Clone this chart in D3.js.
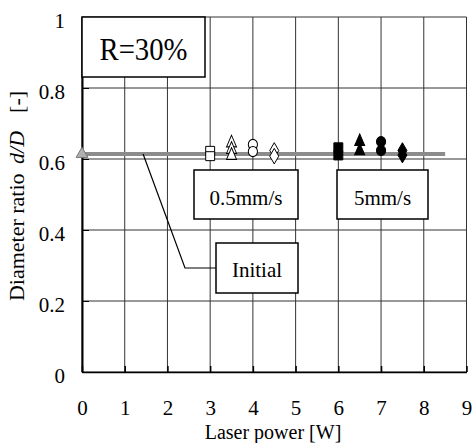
<!DOCTYPE html>
<html>
<head>
<meta charset="utf-8">
<script src="https://cdn.jsdelivr.net/npm/d3@7"></script>
<style>
  body { margin: 0; background: #fff; }
  svg text { font-family: 'Liberation Serif', 'Times New Roman', Times, serif !important; fill: #000; }
</style>
</head>
<body>
<svg id="chart"></svg>
<script>
// values
const xTicks = [0, 1, 2, 3, 4, 5, 6, 7, 8, 9];
const yTicks = [0, 0.2, 0.4, 0.6, 0.8, 1];

const initialPower = 0;
const initialRatio = 0.614;
const initialLineEnd = 8.5;

// 0.5 mm/s (open markers)
const slowPower = [3, 3.5, 4, 4.5];
const slowRatio = [[0.623, 0.608], [0.645, 0.627, 0.61], [0.641, 0.621], [0.624, 0.608]];
// 5 mm/s (filled markers)
const fastPower = [6, 6.5, 7, 7.5];
const fastRatio = [[0.633, 0.61], [0.649, 0.623], [0.649, 0.624], [0.624, 0.611]];

const width = 472, height = 443;
const margin = {top: 17, right: 5.5, bottom: 71, left: 82};
const serif = "'Liberation Serif', 'Times New Roman', Times, serif";

const svg = d3.select("#chart")
  .attr("width", width)
  .attr("height", height)
  .attr("viewBox", [0, 0, width, height])
  .attr("font-family", serif);

const x = d3.scaleLinear().domain([0, 9]).range([margin.left, width - margin.right]);
const y = d3.scaleLinear().domain([0, 1]).range([height - margin.bottom, margin.top]);

// grid
svg.append("g").selectAll("line").data(xTicks).join("line")
  .attr("x1", d => x(d)).attr("x2", d => x(d))
  .attr("y1", y(0)).attr("y2", y(1))
  .attr("stroke", "#333").attr("stroke-width", 1);
svg.append("g").selectAll("line").data(yTicks).join("line")
  .attr("x1", x(0)).attr("x2", x(9))
  .attr("y1", d => y(d)).attr("y2", d => y(d))
  .attr("stroke", "#333").attr("stroke-width", 1);

// axes
const xAxis = g => g
  .attr("transform", `translate(0,${y(0)})`)
  .call(d3.axisBottom(x).tickValues(xTicks).tickFormat(d3.format("d")).tickSizeInner(-6).tickSizeOuter(0).tickPadding(28))
  .attr("font-family", serif).attr("font-size", 21)
  .call(g => g.select(".domain").attr("stroke", "#000").attr("stroke-width", 1.5))
  .call(g => g.selectAll(".tick line").attr("stroke", "#000").attr("stroke-width", 1.5));

const yAxis = g => g
  .attr("transform", `translate(${x(0)},0)`)
  .call(d3.axisLeft(y).tickValues(yTicks).tickFormat(d => d).tickSizeInner(-7).tickSizeOuter(0).tickPadding(17))
  .attr("font-family", serif).attr("font-size", 21)
  .call(g => g.select(".domain").attr("stroke", "#000").attr("stroke-width", 2))
  .call(g => g.selectAll(".tick line").attr("stroke", "#000").attr("stroke-width", 1))
  .call(g => g.selectAll("text").attr("dy", "0.5em"));

svg.append("g").call(xAxis);
svg.append("g").call(yAxis);

// initial reference line
svg.append("line")
  .attr("x1", x(initialPower)).attr("x2", x(initialLineEnd))
  .attr("y1", y(initialRatio)).attr("y2", y(initialRatio))
  .attr("stroke", "#8c8c8c").attr("stroke-width", 4);

// annotation boxes
function box(x0, y0, w, h, label, tx, ty, fs, tl) {
  svg.append("rect")
    .attr("x", x0).attr("y", y0).attr("width", w).attr("height", h)
    .attr("fill", "#fff").attr("stroke", "#000").attr("stroke-width", 1.5);
  const t = svg.append("text")
    .attr("x", tx).attr("y", ty)
    .attr("text-anchor", "middle")
    .attr("font-size", fs)
    .text(label);
  if (tl) t.attr("textLength", tl).attr("lengthAdjust", "spacingAndGlyphs");
}

box(x(0), y(1), 123, 60, "R=30%", 143.5, 60, 32, 88);
box(194, 170, 104, 49, "0.5mm/s", 246, 205, 21);
box(337, 170, 91, 49, "5mm/s", 382.5, 205, 21);

// Initial label with leader line
svg.append("path")
  .attr("d", `M${x(1.43)},${y(initialRatio)} L185,268 L216,268`)
  .attr("fill", "none").attr("stroke", "#000").attr("stroke-width", 1.2);
box(216, 243, 82, 50, "Initial", 257, 277, 21);

// markers
const shapes = [d3.symbolSquare, d3.symbolTriangle, d3.symbolCircle, d3.symbolDiamond];
const sizes = [80, 60, 66, 70];
const stretch = ["", " scale(0.85,1.15)", " scale(1,1.1)", ""];

function drawSeries(power, ratio, filled) {
  const pts = [];
  power.forEach((p, i) => ratio[i].forEach(r => pts.push({p, r, i})));
  svg.append("g").selectAll("path").data(pts).join("path")
    .attr("transform", d => `translate(${x(d.p)},${y(d.r)})` + stretch[d.i])
    .attr("d", d => d3.symbol().type(shapes[d.i]).size(sizes[d.i])())
    .attr("fill", filled ? "#000" : "#fff")
    .attr("stroke", "#000")
    .attr("stroke-width", 1);
}
drawSeries(slowPower, slowRatio, false);
drawSeries(fastPower, fastRatio, true);

// initial point
svg.append("path")
  .attr("transform", `translate(${x(initialPower)},${y(initialRatio)})`)
  .attr("d", d3.symbol().type(d3.symbolTriangle).size(60)())
  .attr("fill", "#b0b0b0").attr("stroke", "#777").attr("stroke-width", 1);

// axis titles
svg.append("text")
  .attr("x", 273).attr("y", 439)
  .attr("text-anchor", "middle")
  .attr("font-size", 20)
  .text("Laser power [W]");

const yt = svg.append("text")
  .attr("transform", "translate(24,196) rotate(-90)")
  .attr("text-anchor", "middle")
  .attr("font-size", 22);
yt.append("tspan").text("Diameter ratio ");
yt.append("tspan").attr("dx", 4).attr("font-style", "italic").text("d/D");
yt.append("tspan").attr("dx", 18).text("[-]");
</script>
</body>
</html>
